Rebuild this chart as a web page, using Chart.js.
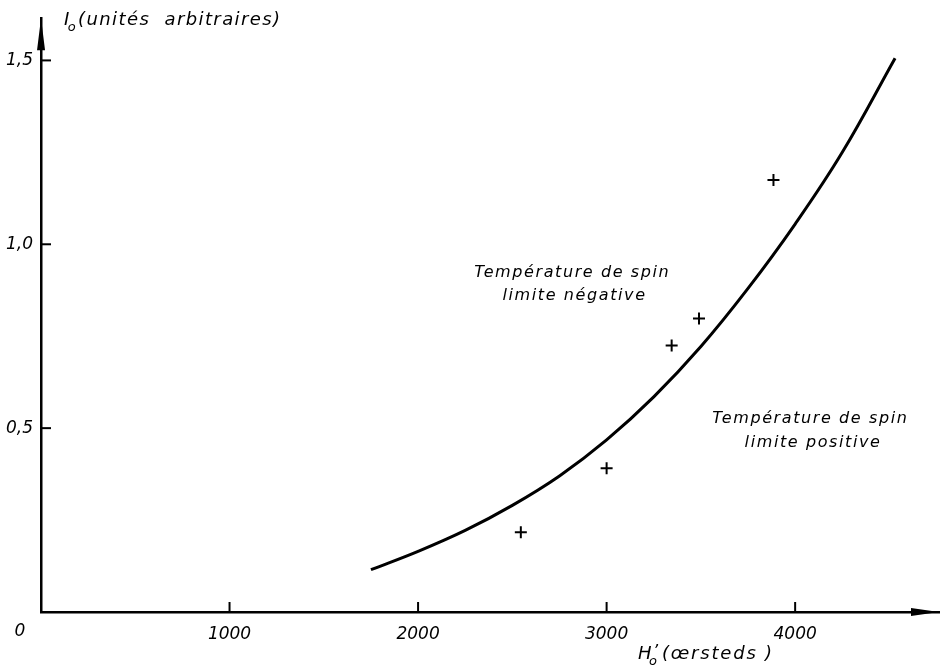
<!DOCTYPE html>
<html>
<head>
<meta charset="utf-8">
<script src="https://cdn.jsdelivr.net/npm/chart.js@4/dist/chart.umd.min.js"></script>
<style>
  html, body { margin: 0; padding: 0; background: #fff; }
  #wrap { width: 947px; height: 668px; }
</style>
</head>
<body>
<div id="wrap"><canvas id="graphic"></canvas></div>
<script>
// courbe théorique (H'o en oersteds, Io en unités arbitraires)
const curveH = [1750, 2000, 2250, 2500, 2750, 3000, 3250, 3500, 3750, 4000, 4250, 4530];
const curveI = [0.115, 0.165, 0.222, 0.290, 0.370, 0.468, 0.585, 0.722, 0.880, 1.055, 1.250, 1.506];

// points mesurés (+)
const pointsH = [2545, 3000, 3345, 3490, 3885];
const pointsI = [0.217, 0.391, 0.725, 0.798, 1.175];

// graduations
const xTicks = [1000, 2000, 3000, 4000];
const yTicks = [0.5, 1.0, 1.5];

const FONT = "'DejaVu Sans', sans-serif";

// petits traits de graduation vers l'intérieur, flèches, textes
const decorPlugin = {
  id: "decor",
  afterDraw(chart) {
    const ctx = chart.ctx;
    const x = chart.scales.x;
    const y = chart.scales.y;
    const area = chart.chartArea;
    ctx.save();
    ctx.strokeStyle = "#000";
    ctx.fillStyle = "#000";
    ctx.lineWidth = 2;

    xTicks.forEach(v => {
      const px = x.getPixelForValue(v);
      ctx.beginPath();
      ctx.moveTo(px, area.bottom);
      ctx.lineTo(px, area.bottom - 10);
      ctx.stroke();
    });
    yTicks.forEach(v => {
      const py = y.getPixelForValue(v);
      ctx.beginPath();
      ctx.moveTo(area.left, py);
      ctx.lineTo(area.left + 10, py);
      ctx.stroke();
    });

    // flèches
    ctx.beginPath();
    ctx.moveTo(area.left, area.top);
    ctx.lineTo(area.left - 4, area.top + 32);
    ctx.lineTo(area.left + 4, area.top + 32);
    ctx.closePath();
    ctx.fill();
    ctx.beginPath();
    ctx.moveTo(area.right, area.bottom);
    ctx.lineTo(area.right - 28, area.bottom - 4);
    ctx.lineTo(area.right - 28, area.bottom + 4);
    ctx.closePath();
    ctx.fill();

    ctx.textBaseline = "middle";

    // origine
    ctx.font = "italic 17px " + FONT;
    ctx.textAlign = "center";
    ctx.fillText("0", 20, 632);

    // textes des régions
    const notes = [
      ["Température de spin", 2818, 0.921],
      ["limite négative", 2830, 0.859],
      ["Température de spin", 4081, 0.526],
      ["limite positive", 4095, 0.460]
    ];
    ctx.font = "italic 16px " + FONT;
    ctx.letterSpacing = "1.6px";
    notes.forEach(n => {
      ctx.fillText(n[0], x.getPixelForValue(n[1]), y.getPixelForValue(n[2]));
    });

    // titre axe y : Io(unités arbitraires)
    ctx.textAlign = "left";
    ctx.letterSpacing = "1.4px";
    let tx = 64;
    ctx.font = "italic 18px " + FONT;
    ctx.fillText("I", tx, 20);
    tx += ctx.measureText("I").width;
    ctx.font = "italic 13px " + FONT;
    ctx.fillText("o", tx - 3, 28);
    tx += ctx.measureText("o").width - 2;
    ctx.font = "italic 18px " + FONT;
    ctx.fillText("(unités  arbitraires)", tx, 20);

    // titre axe x : H'o (œrsteds)
    tx = 638;
    ctx.fillText("H", tx, 654);
    const hw = ctx.measureText("H").width;
    ctx.font = "italic 13px " + FONT;
    ctx.fillText("o", tx + hw - 4, 662);
    ctx.font = "italic 16px " + FONT;
    ctx.fillText("’", tx + hw, 652);
    ctx.font = "italic 18px " + FONT;
    ctx.letterSpacing = "1.8px";
    ctx.fillText("(œrsteds )", tx + hw + 9, 654);

    ctx.restore();
  }
};

const ctx = document.getElementById("graphic").getContext("2d");

new Chart(ctx, {
  type: "scatter",
  data: {
    datasets: [
      {
        label: "courbe",
        data: curveH.map((h, i) => ({ x: h, y: curveI[i] })),
        showLine: true,
        borderColor: "#000",
        borderWidth: 3,
        pointRadius: 0,
        tension: 0.4,
        fill: false
      },
      {
        label: "mesures",
        data: pointsH.map((h, i) => ({ x: h, y: pointsI[i] })),
        showLine: false,
        pointStyle: "cross",
        pointRadius: 6,
        borderColor: "#000",
        borderWidth: 2
      }
    ]
  },
  options: {
    responsive: true,
    maintainAspectRatio: false,
    animation: false,
    layout: { padding: { top: 7, right: 1, left: 0, bottom: 0 } },
    plugins: {
      legend: { display: false },
      tooltip: { enabled: false }
    },
    scales: {
      x: {
        type: "linear",
        min: 0,
        max: 4763,
        grid: { display: false, drawTicks: false },
        border: { display: true, color: "#000", width: 2.5 },
        afterBuildTicks: s => { s.ticks = xTicks.map(v => ({ value: v })); },
        afterFit: s => { s.height = 56; },
        ticks: {
          color: "#000",
          padding: 12,
          maxRotation: 0,
          font: { family: FONT, size: 17, style: "italic" },
          callback: v => String(v)
        }
      },
      y: {
        type: "linear",
        min: 0,
        max: 1.6148,
        grid: { display: false, drawTicks: false },
        border: { display: true, color: "#000", width: 2.5 },
        afterBuildTicks: s => { s.ticks = yTicks.map(v => ({ value: v })); },
        afterFit: s => { s.width = 41; },
        ticks: {
          color: "#000",
          padding: 8,
          font: { family: FONT, size: 17, style: "italic" },
          callback: v => v.toFixed(1).replace(".", ",")
        }
      }
    }
  },
  plugins: [decorPlugin]
});
</script>
</body>
</html>
